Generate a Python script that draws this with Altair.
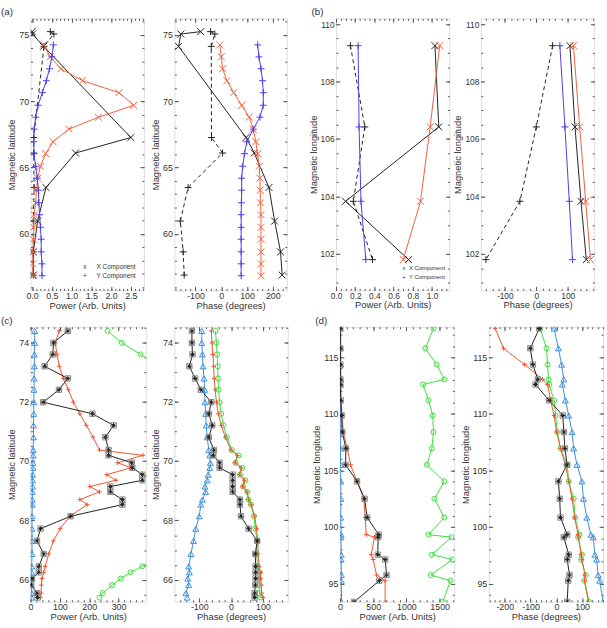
import math
import altair as alt
import pandas as pd

# ---------------- data: panel (a) ----------------
A_LAT_OBS = [75.25, 75.07, 74.14, 67.27, 66.1, 63.5, 60.97, 58.65, 56.9]
A_POW_OBS_X = [0.0, 0.01, 0.29, 2.5, 1.1, 0.35, 0.14, 0.03, 0.03]
A_POW_OBS_Y = [0.46, 0.55, 0.30, 0.04, 0.04, 0.05, 0.03, 0.03, 0.03]
A_PH_OBS_X = [-80, -157, -166, 96, 128, 185, 207, 230, 236]
A_PH_OBS_Y = [-42, -25, -39, -38, 5, -129, -159, -148, -144]
A_LAT_MOD = [74.25, 73.35, 72.45, 71.55, 70.65, 69.7, 68.8, 67.9, 66.95, 66.05,
             65.1, 64.2, 63.3, 62.35, 61.45, 60.5, 59.6, 58.65, 57.75, 56.85]
A_POW_MOD_X = [0.29, 0.46, 0.73, 1.28, 2.2, 2.57, 1.68, 0.93, 0.53, 0.34,
               0.21, 0.14, 0.11, 0.09, 0.05, 0.04, 0.03, 0.02, 0.02, 0.02]
A_POW_MOD_Y = [0.54, 0.5, 0.44, 0.36, 0.26, 0.15, 0.09, 0.05, 0.04, 0.05,
               0.09, 0.13, 0.16, 0.17, 0.19, 0.21, 0.23, 0.23, 0.25, 0.25]
A_PH_MOD_X = [-6, 0, 5, 22, 48, 79, 108, 124, 134, 141,
              147, 150, 151, 152, 154, 154, 154, 154, 154, 154]
A_PH_MOD_Y = [141, 146, 154, 160, 163, 163, 150, 124, 99, 90,
              83, 79, 79, 78, 77, 77, 77, 77, 77, 77]

# ---------------- data: panel (b) ----------------
B_LON = [109.25, 106.42, 103.83, 101.8]
B_POW_OBS_X = [1.03, 1.07, 0.10, 0.755]
B_POW_OBS_Y = [0.15, 0.30, 0.18, 0.38]
B_POW_MOD_X = [1.08, 0.98, 0.88, 0.70]
B_POW_MOD_Y = [0.23, 0.24, 0.26, 0.31]
B_PH_OBS_X = [107, 123, 142, 159]
B_PH_OBS_Y = [52, 0, -52, -160]
B_PH_MOD_X = [118, 138, 157, 172]
B_PH_MOD_Y = [75, 91, 105, 115]

# ---------------- data: panel (c) ----------------
C_LAT = [74.38, 73.98, 73.59, 73.19, 72.78, 72.4, 71.98, 71.59, 71.2, 70.8,
         70.37, 70.19, 69.94, 69.77, 69.54, 69.35, 69.14, 68.96, 68.7, 68.53,
         68.14, 67.72, 67.31, 66.87, 66.45, 66.25, 66.04, 65.82, 65.55, 65.4]
C_POW_BLACK = [127, 78, 76, 48, 127, 97, 43, 211, 283, 255,
               266, 266, 345, 347, 381, 381, 272, 272, 313, 313,
               137, 34, 22, 45, 28, 28, 5, 2, 22, 24]
C_POW_RED = [98, 84, 90, 98, 112, 129, 146, 168, 190, 213,
             235, 383, 297, 342, 260, 291, 202, 235, 168, 193,
             134, 101, 78, 62, 50, 45, 39, 37, 36, 34]
C_POW_BLUE = [14, 14, 13, 13, 12, 12, 11, 11, 10, 10,
              9, 9, 8, 8, 7, 7, 7, 6, 6, 6,
              5, 5, 5, 5, 4, 4, 3, 3, 4, 4]
C_LAT_GREEN_TOP = [74.38, 73.98, 73.59, 73.19]
C_POW_GREEN_TOP = [263, 311, 375, 440]
C_LAT_GREEN_BOT = [66.87, 66.45, 66.25, 66.04, 65.82, 65.55, 65.4]
C_POW_GREEN_BOT = [440, 381, 341, 308, 278, 246, 235]
C_PH_BLACK = [-123, -123, -121, -131, -113, -95, -62, -70, -59, -70,
              -54, -56, -36, -36, 5, 5, 5, 5, 28, 28,
              31, 55, 82, 76, 77, 77, 77, 76, 74, 74]
C_PH_GREEN = [-49, -46, -44, -42, -41, -39, -36, -31, -24, -13,
              2, 23, 14, 35, 28, 45, 38, 51, 55, 62,
              72, 76, 82, 79, 84, 89, 89, 89, 89, 94]
C_PH_RED = [-62, -60, -57, -55, -53, -50, -46, -40, -31, -18,
            0, 20, 12, 32, 26, 42, 36, 50, 55, 63,
            74, 80, 84, 85, 88, 93, 92, 95, 96, 100]
C_PH_BLUE = [-92, -92, -90, -88, -85, -83, -82, -80, -78, -75,
             -70, -67, -65, -67, -72, -75, -82, -80, -90, -95,
             -100, -111, -118, -126, -133, -131, -136, -133, -142, -138]

# ---------------- data: panel (d) ----------------
D_LON = [117.55, 115.8, 114.36, 113.05, 112.6, 111.2, 109.86, 108.4, 106.95, 105.5,
         104.04, 102.5, 100.84, 99.33, 99.1, 97.56, 97.13, 95.76, 95.26, 93.38]
D_POW_BLACK = [5, 5, 6, 6, 6, 10, 25, 35, 89, 84,
               257, 370, 410, 583, 575, 568, 681, 701, 593, 212]
D_POW_RED = [10, 12, 12, 14, 14, 18, 30, 50, 110, 160,
             255, 360, 380, 395, 520, 470, 500, 550, 680, 680]
D_POW_BLUE = [5, 8, 6, 10, 8, 6, 10, 12, 8, 10,
              12, 15, 12, 18, 15, 20, 18, 22, 20, 25]
D_POW_GREEN = [1407, 1284, 1456, 1570, 1249, 1333, 1397, 1407, 1382, 1308,
               1570, 1422, 1570, 1333, 1679, 1382, 1693, 1367, 1664, 1545]
D_PH_BLACK = [-66, -101, -91, -72, -81, -28, 25, 29, 33, 42,
              8, 13, 16, 42, 29, 48, 42, 51, 46, 42]
D_PH_RED = [-237, -205, -123, -53, -34, -22, -9, 1, 16, 35,
            48, 61, 71, 84, 86, 96, 99, 111, 109, 124]
D_PH_GREEN = [-63, -38, -34, -30, -28, -9, -3, 4, 16, 42,
              48, 67, 73, 89, 84, 99, 96, 114, 109, 127]
D_PH_BLUE = [-9, 8, 20, 29, 23, 35, 48, 61, 67, 80,
             99, 105, 118, 134, 143, 149, 156, 162, 168, 181]

# ---------------- styling ----------------
FONT = "Liberation Sans"
TXT = "#333333"
FRAME = "#555555"
BLACK = "#222222"
RED_AB = "#f0603c"
BLUE_AB = "#4b3cf0"
RED_CD = "#f05532"
BLUE_CD = "#3d8fdc"
GREEN_CD = "#3fdc3f"

P_X = "M-1,-1L1,1M-1,1L1,-1"
P_PLUS = "M-1,0L1,0M0,-1L0,1"
P_AST = "M-1,0L1,0M0,-1L0,1M-0.7,-0.7L0.7,0.7M-0.7,0.7L0.7,-0.7"


def tick_values(lo, hi, step):
    k0 = math.ceil(lo / step - 1e-9)
    k1 = math.floor(hi / step + 1e-9)
    return [round(k * step, 6) for k in range(k0, k1 + 1)]


def txt(s, x, y, size=10, align="left", baseline="alphabetic", color=TXT):
    return alt.Chart(pd.DataFrame({"t": [s]})).mark_text(
        text=s, align=align, baseline=baseline, fontSize=size, font=FONT, color=color
    ).encode(x=alt.value(x), y=alt.value(y))


def panel(series, xdom, ydom, xmaj, xstep, ymaj, ystep, xtitle, ytitle, xdec,
          w, h, texts=(), labsize=9):
    xs = alt.Scale(domain=xdom, nice=False, zero=False)
    ys = alt.Scale(domain=ydom, nice=False, zero=False)
    common = dict(labelFont=FONT, labelFontSize=labsize, labelColor=TXT,
                  titleFont=FONT, titleFontSize=9.5, titleColor=TXT,
                  titleFontWeight="normal", tickColor=FRAME, tickWidth=1,
                  domain=False, grid=False, labelFlush=False, labelOverlap=False)
    xfmt = dict(format=".1f") if xdec else dict(labelExpr="datum.value + ''")
    ax_x = alt.Axis(orient="bottom", values=xmaj, title=xtitle, offset=-4,
                    tickSize=4, labelPadding=1, titlePadding=0, **xfmt, **common)
    ax_y = alt.Axis(orient="left", values=ymaj, title=ytitle, offset=-4,
                    tickSize=4, labelPadding=2, titlePadding=2,
                    labelExpr="datum.value + ''", **common)
    X = alt.X("v:Q", scale=xs, axis=ax_x)
    Y = alt.Y("c:Q", scale=ys, axis=ax_y)

    layers = []
    for s in series:
        n = len(s["x"])
        df = pd.DataFrame({"i": list(range(n)), "v": s["x"], "c": s["y"],
                           "g": s.get("seg", [0] * n)})
        lkw = dict(color=s["color"], strokeWidth=1, clip=True)
        if s.get("dash"):
            lkw["strokeDash"] = [4, 3]
        layers.append(alt.Chart(df).mark_line(**lkw).encode(
            x=X, y=Y, order="i:Q", detail="g:N"))
        if s.get("box"):
            layers.append(alt.Chart(df).mark_point(
                shape="square", filled=False, color="#8a8a8a", size=s["box"],
                strokeWidth=1, opacity=1, clip=True).encode(x=X, y=Y))
        layers.append(alt.Chart(df).mark_point(
            shape=s["shape"], filled=False, color=s["color"], size=s["size"],
            strokeWidth=s.get("sw", 1), opacity=1, clip=True).encode(x=X, y=Y))
    data = alt.layer(*layers)

    base = pd.DataFrame({"v": series[0]["x"], "c": series[0]["y"]})
    xmin_vals = tick_values(xdom[0], xdom[1], xstep)
    ymin_vals = tick_values(ydom[0], ydom[1], ystep)

    def tick_layer(xo, yo, xv, yv, size):
        tk = dict(labels=False, title=None, offset=-size, tickSize=size,
                  tickColor=FRAME, tickWidth=1, domain=False, grid=False)
        return alt.Chart(base).mark_point(opacity=0).encode(
            x=alt.X("v:Q", scale=xs, axis=alt.Axis(orient=xo, values=xv, **tk)),
            y=alt.Y("c:Q", scale=ys, axis=alt.Axis(orient=yo, values=yv, **tk)))

    all_layers = [data,
                  tick_layer("bottom", "left", xmin_vals, ymin_vals, 2),
                  tick_layer("top", "right", xmaj, ymaj, 4),
                  tick_layer("top", "right", xmin_vals, ymin_vals, 2)] + list(texts)
    return alt.layer(*all_layers).resolve_axis(
        x="independent", y="independent").properties(width=w, height=h)


def ser(x, y, color, shape, size=49, dash=False, box=None, seg=None, sw=1):
    d = dict(x=x, y=y, color=color, shape=shape, size=size, dash=dash, sw=sw)
    if box:
        d["box"] = box
    if seg is not None:
        d["seg"] = seg
    return d


H1, H2 = 276, 279
A_YDOM = [55.75, 76.25]
B_YDOM = [100.73, 110.2]
C_YDOM = [65.26, 74.52]
D_YDOM = [93.4, 117.7]

legend_a = [txt("x", 55, 252, 6.5, "center", "middle"),
            txt("X Component", 67, 252, 6.5, "left", "middle"),
            txt("+", 55, 261, 6.5, "center", "middle"),
            txt("Y Component", 67, 261, 6.5, "left", "middle")]
legend_b = [txt("x", 69, 253, 6, "center", "middle"),
            txt("X Component", 74, 253, 6, "left", "middle"),
            txt("+", 69, 262, 6, "center", "middle"),
            txt("Y Component", 74, 262, 6, "left", "middle")]

aL = panel([
    ser(A_POW_OBS_X, A_LAT_OBS, BLACK, P_X),
    ser(A_POW_OBS_Y, A_LAT_OBS, BLACK, P_PLUS, dash=True),
    ser(A_POW_MOD_X, A_LAT_MOD, RED_AB, P_X),
    ser(A_POW_MOD_Y, A_LAT_MOD, BLUE_AB, P_PLUS),
], [-0.04, 2.83], A_YDOM, [0, 0.5, 1.0, 1.5, 2.0, 2.5], 0.1, [60, 65, 70, 75], 1,
    "Power (Arb. Units)", "Magnetic latitude", True, 115, H1,
    texts=[txt("(a)", -30, -3, 10)] + legend_a)

aR = panel([
    ser(A_PH_OBS_X, A_LAT_OBS, BLACK, P_X),
    ser(A_PH_OBS_Y, A_LAT_OBS, BLACK, P_PLUS, dash=True),
    ser(A_PH_MOD_X, A_LAT_MOD, RED_AB, P_X),
    ser(A_PH_MOD_Y, A_LAT_MOD, BLUE_AB, P_PLUS),
], [-182, 254], A_YDOM, [-100, 0, 100, 200], 20, [60, 65, 70, 75], 1,
    "Phase (degrees)", "Magnetic latitude", False, 114, H1)

bL = panel([
    ser(B_POW_OBS_X, B_LON, BLACK, P_X),
    ser(B_POW_OBS_Y, B_LON, BLACK, P_PLUS, dash=True),
    ser(B_POW_MOD_X, B_LON, RED_AB, P_X),
    ser(B_POW_MOD_Y, B_LON, BLUE_AB, P_PLUS),
], [0, 1.18], B_YDOM, [0, 0.2, 0.4, 0.6, 0.8, 1.0], 0.05, [102, 104, 106, 108, 110], 0.5,
    "Power (Arb. Units)", "Magnetic longitude", True, 115, H1,
    texts=[txt("(b)", -25, -3, 10)] + legend_b, labsize=8.5)

bR = panel([
    ser(B_PH_OBS_X, B_LON, BLACK, P_X),
    ser(B_PH_OBS_Y, B_LON, BLACK, P_PLUS, dash=True),
    ser(B_PH_MOD_X, B_LON, RED_AB, P_X),
    ser(B_PH_MOD_Y, B_LON, BLUE_AB, P_PLUS),
], [-176, 184], B_YDOM, [-100, 0, 100], 20, [102, 104, 106, 108, 110], 0.5,
    "Phase (degrees)", "Magnetic longitude", False, 115, H1, labsize=8.5)

green_c_x = C_POW_GREEN_TOP + C_POW_GREEN_BOT
green_c_y = C_LAT_GREEN_TOP + C_LAT_GREEN_BOT
green_c_seg = [0] * len(C_POW_GREEN_TOP) + [1] * len(C_POW_GREEN_BOT)

cL = panel([
    ser(C_POW_BLUE, C_LAT, BLUE_CD, "triangle-up", size=36),
    ser(green_c_x, green_c_y, GREEN_CD, "circle", size=26),
    ser(C_POW_RED, C_LAT, RED_CD, P_PLUS, size=22),
    ser(C_POW_BLACK, C_LAT, BLACK, P_AST, size=22, box=30, sw=1),
], [0, 393], C_YDOM, [0, 100, 200, 300], 20, [66, 68, 70, 72, 74], 0.5,
    "Power (Arb. Units)", "Magnetic latitude", False, 117, H2,
    texts=[txt("(c)", -30, -3, 10)])

cR = panel([
    ser(C_PH_BLUE, C_LAT, BLUE_CD, "triangle-up", size=36),
    ser(C_PH_GREEN, C_LAT, GREEN_CD, "circle", size=26),
    ser(C_PH_RED, C_LAT, RED_CD, P_PLUS, size=22),
    ser(C_PH_BLACK, C_LAT, BLACK, P_AST, size=22, box=30, sw=1),
], [-178, 178], C_YDOM, [-100, 0, 100], 20, [66, 68, 70, 72, 74], 0.5,
    "Phase (degrees)", "Magnetic latitude", False, 115, H2)

dL = panel([
    ser(D_POW_BLUE, D_LON, BLUE_CD, "triangle-up", size=36),
    ser(D_POW_GREEN, D_LON, GREEN_CD, "circle", size=26),
    ser(D_POW_RED, D_LON, RED_CD, P_PLUS, size=22),
    ser(D_POW_BLACK, D_LON, BLACK, P_AST, size=22, box=30, sw=1),
], [0, 1720], D_YDOM, [0, 500, 1000, 1500], 100, [95, 100, 105, 110, 115], 1,
    "Power (Arb. Units)", "Magnetic longitude", False, 116, H2,
    texts=[txt("(d)", -25, -3, 10)])

dR = panel([
    ser(D_PH_BLUE, D_LON, BLUE_CD, "triangle-up", size=36),
    ser(D_PH_GREEN, D_LON, GREEN_CD, "circle", size=26),
    ser(D_PH_RED, D_LON, RED_CD, P_PLUS, size=22),
    ser(D_PH_BLACK, D_LON, BLACK, P_AST, size=22, box=30, sw=1),
], [-262, 181], D_YDOM, [-200, -100, 0, 100], 20, [95, 100, 105, 110, 115], 1,
    "Phase (degrees)", "Magnetic longitude", False, 116, H2)

row1 = alt.hconcat(alt.hconcat(aL, aR, spacing=5), alt.hconcat(bL, bR, spacing=2), spacing=20)
row2 = alt.hconcat(alt.hconcat(cL, cR, spacing=3), alt.hconcat(dL, dR, spacing=4), spacing=22)

chart = alt.vconcat(row1, row2, spacing=5).configure_view(
    stroke=FRAME, strokeWidth=1
).configure(font=FONT).properties(
    padding={"left": 0, "top": 2, "right": 0, "bottom": 0},
    background="white",
)

chart.save("out.html", embed_options={"renderer": "svg", "actions": False})
